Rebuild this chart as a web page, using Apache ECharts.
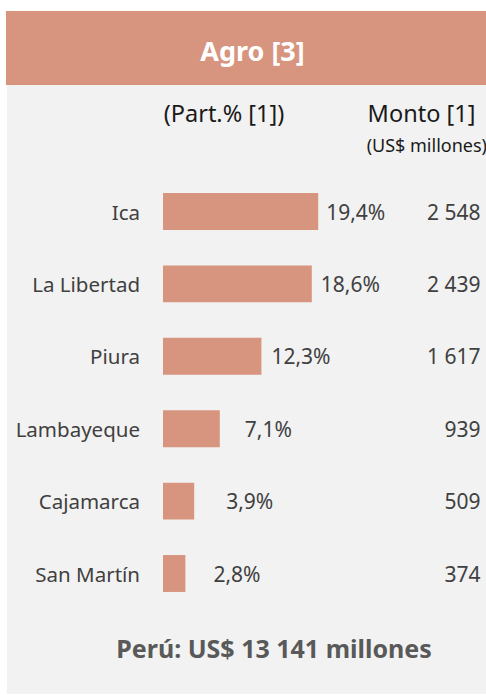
<!DOCTYPE html>
<html>
<head>
<meta charset="utf-8">
<script src="https://cdn.jsdelivr.net/npm/echarts@6/dist/echarts.min.js"></script>
<style>
html,body{margin:0;padding:0;background:#ffffff;}
#c{width:486px;height:695px;}
</style>
</head>
<body>
<div id="c"></div>
<script>
const title = 'Agro [3]';
const regions = ['Ica', 'La Libertad', 'Piura', 'Lambayeque', 'Cajamarca', 'San Martín'];
const sharePct = [19.4, 18.6, 12.3, 7.1, 3.9, 2.8];
const montoMillones = [2548, 2439, 1617, 939, 509, 374];
const totalLabel = 'Perú: US$ 13 141 millones';
const colHeaderPct = '(Part.% [1])';
const colHeaderMonto = 'Monto [1]';
const colHeaderUnit = '(US$ millones)';

const FONT = '"Noto Sans", "Open Sans", sans-serif';
const BAR = '#D7957F';
// per-row gap between bar end and percent label (layout only)
const labelGap = [8, 9, 10, 25, 32, 28];

function fmtPct(v){ return v.toFixed(1).replace('.', ',') + '%'; }
function fmtMonto(v){ return String(v).replace(/\B(?=(\d{3})+(?!\d))/g, ' '); }

const chart = echarts.init(document.getElementById('c'), null, {renderer: 'svg'});
chart.setOption({
  backgroundColor: '#ffffff',
  animation: false,
  graphic: [
    {type: 'rect', z: -10, shape: {x: 6, y: 11, width: 480, height: 74}, style: {fill: BAR}},
    {type: 'rect', z: -10, shape: {x: 7, y: 85, width: 479, height: 609}, style: {fill: '#F2F2F2'}},
    {type: 'text', x: 252.5, y: 50, style: {text: title, fill: '#ffffff', fontFamily: FONT, fontWeight: 'bold', fontSize: 27, textAlign: 'center', textVerticalAlign: 'middle'}},
    {type: 'text', x: 224, y: 113, style: {text: colHeaderPct, fill: '#1a1a1a', fontFamily: FONT, fontSize: 23.5, textAlign: 'center', textVerticalAlign: 'middle'}},
    {type: 'text', x: 421.5, y: 113, style: {text: colHeaderMonto, fill: '#1a1a1a', fontFamily: FONT, fontSize: 23.5, textAlign: 'center', textVerticalAlign: 'middle'}},
    {type: 'text', x: 487, y: 145, style: {text: colHeaderUnit, fill: '#1a1a1a', fontFamily: FONT, fontSize: 18, textAlign: 'right', textVerticalAlign: 'middle'}},
    {type: 'text', x: 274, y: 648, style: {text: totalLabel, fill: '#595959', fontFamily: FONT, fontWeight: 'bold', fontSize: 25, textAlign: 'center', textVerticalAlign: 'middle'}}
  ],
  grid: {left: 163, right: 3, top: 175.3, bottom: 85.3, containLabel: false},
  xAxis: {type: 'value', min: 0, max: 40, show: false},
  yAxis: [
    {
      type: 'category', inverse: true, data: regions,
      axisLine: {show: false}, axisTick: {show: false}, splitLine: {show: false},
      axisLabel: {margin: 23, color: '#404040', fontFamily: FONT, fontSize: 20.5}
    },
    {
      type: 'category', inverse: true, position: 'right', data: montoMillones.map(fmtMonto),
      axisLine: {show: false}, axisTick: {show: false}, splitLine: {show: false},
      axisLabel: {inside: true, margin: 2.5, color: '#404040', fontFamily: FONT, fontSize: 21}
    }
  ],
  series: [{
    type: 'bar',
    barWidth: '51%',
    itemStyle: {color: BAR},
    data: sharePct.map((v, i) => ({
      value: v,
      label: {show: true, position: 'right', distance: labelGap[i], formatter: fmtPct(v),
              color: '#404040', fontFamily: FONT, fontSize: 21}
    }))
  }]
});
</script>
</body>
</html>
